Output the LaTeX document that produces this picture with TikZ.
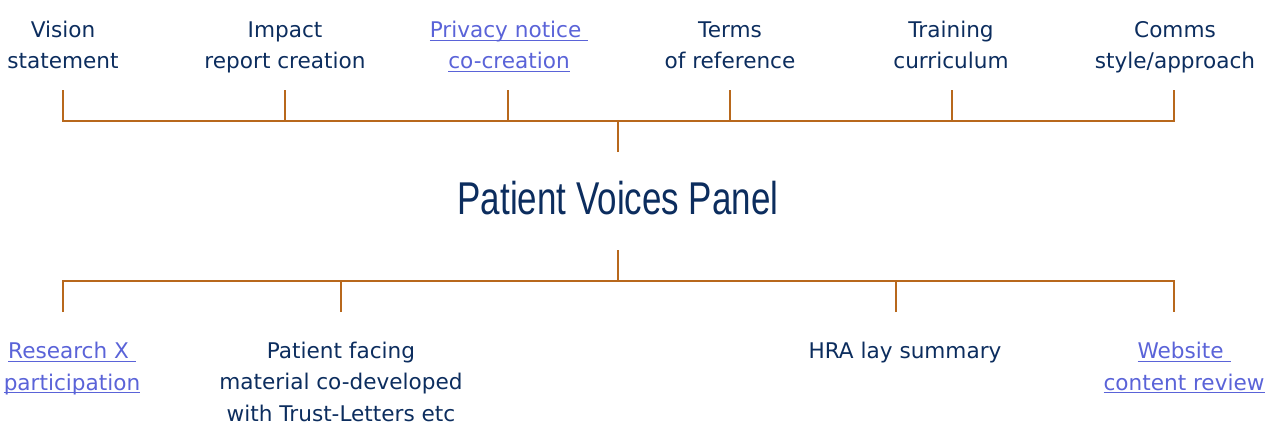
\documentclass[tikz,border=0pt]{standalone}
\usepackage{fontspec}
\setmainfont{DejaVu Sans}
\newfontfamily\titlefont[FakeStretch=0.76]{Liberation Sans}
\definecolor{navy}{HTML}{0C2D5E}
\definecolor{linkblue}{HTML}{5A63D8}
\definecolor{rust}{HTML}{B8681C}
\newcommand\linktext[1]{\setbox0\hbox{#1}\rlap{\rule[-2.6pt]{\wd0}{0.75pt}}\box0}
\begin{document}
\begin{tikzpicture}[x=0.75pt, y=-0.75pt,
    item/.style = {align=center, anchor=base, text=navy, font=\fontsize{16.2}{23.6}\selectfont, inner sep=0pt},
    link/.style = {item, text=linkblue},
    branch/.style = {draw=rust, line width=1.1pt}]
    \useasboundingbox (0,0) rectangle (1280,428);

    \node (panel) at (618,198) {\titlefont\fontsize{34.5}{40}\selectfont\color{navy}Patient Voices Panel};

    % top row (placed at last baseline)
    \node[item] (vision) at (63,69) {Vision\\statement};
    \node[item] (impact) at (285,69) {Impact\\report creation};
    \node[link] (privacy) at (509,69) {\linktext{Privacy notice\ }\\\linktext{co-creation}};
    \node[item] (terms) at (730,69) {Terms\\of reference};
    \node[item] (training) at (951,69) {Training\\curriculum};
    \node[item] (comms) at (1175,69) {Comms\\style/approach};

    % bottom row
    \node[link] (research) at (72,390) {\linktext{Research X\ }\\\linktext{participation}};
    \node[item] (facing) at (341,421) {Patient facing\\material co-developed\\with Trust-Letters etc};
    \node[item] (hra) at (905,358) {HRA lay summary};
    \node[link] (website) at (1184,390) {\linktext{Website\ }\\\linktext{content review}};

    % tick ends
    \coordinate (up) at (618,152);
    \coordinate (down) at (618,250);
    \coordinate (t1) at (63,90);
    \coordinate (t2) at (285,90);
    \coordinate (t3) at (508,90);
    \coordinate (t4) at (730,90);
    \coordinate (t5) at (952,90);
    \coordinate (t6) at (1174,90);
    \coordinate (b1) at (63,312);
    \coordinate (b2) at (341,312);
    \coordinate (b3) at (896,312);
    \coordinate (b4) at (1174,312);

    \draw[branch] (t1) -- ++(0,31) -| (t6);
    \draw[branch] (up) -- ++(0,-31);
    \foreach \t in {t2,t3,t4,t5}
        \draw[branch] (\t) -- ++(0,31);

    \draw[branch] (b1) -- ++(0,-31) -| (b4);
    \draw[branch] (down) -- ++(0,31);
    \foreach \b in {b2,b3}
        \draw[branch] (\b) -- ++(0,-31);
\end{tikzpicture}
\end{document}
